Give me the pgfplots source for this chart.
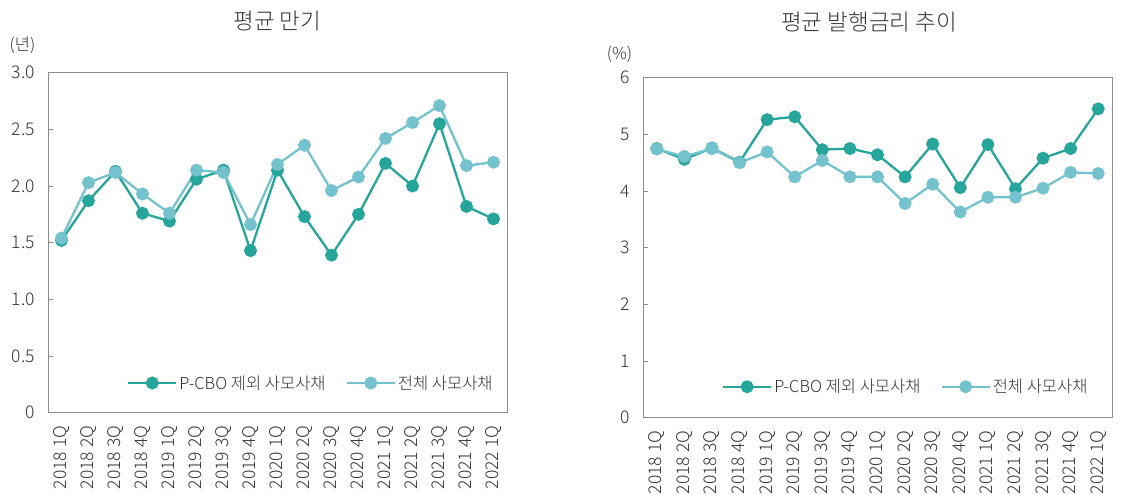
\documentclass[border=0pt]{standalone}
\usepackage{pgfplots}
\pgfplotsset{compat=1.18}
\usepackage{fontspec}
\setmainfont{Noto Sans CJK KR}[UprightFont={* Light}]
\definecolor{darkteal}{HTML}{26A69A}
\definecolor{lightteal}{HTML}{73C2CD}
\definecolor{axgray}{HTML}{8C8C8C}
\definecolor{txt}{HTML}{333333}
\pgfplotsset{
  mystyle/.style={
    scale only axis, clip=false,
    xmin=-0.5, xmax=16.5,
    xtick={0,...,16},
    xticklabels={2018 1Q,2018 2Q,2018 3Q,2018 4Q,2019 1Q,2019 2Q,2019 3Q,2019 4Q,2020 1Q,2020 2Q,2020 3Q,2020 4Q,2021 1Q,2021 2Q,2021 3Q,2021 4Q,2022 1Q},
    minor xtick={0.5,1.5,...,15.5},
    xtick style={draw=none},
    minor x tick style={axgray, line width=0.8bp},
    y tick style={axgray, line width=0.8bp},
    major tick length=5bp, minor tick length=6bp,
    xtick pos=bottom, ytick pos=left,
    tick align=inside,
    axis line style={axgray, line width=0.8bp},
    /pgf/number format/assume math mode=true,
    tick label style={font=\fontsize{17.5bp}{19bp}\selectfont, text=txt},
    xticklabel style={rotate=90, anchor=east, inner sep=0pt},
    yticklabel style={anchor=east, inner sep=0pt},
    xticklabel shift=13bp,
    yticklabel shift=13bp,
    legend columns=2,
    legend image code/.code={\draw[mark repeat=2,mark phase=2] plot coordinates {(0bp,0bp) (24bp,0bp) (48bp,0bp)};},
    legend style={draw=none, fill=none, inner sep=0pt, font=\fontsize{16.5bp}{18bp}\selectfont, text=txt, anchor=west,
      /tikz/every even column/.append style={column sep=18bp}},
    every axis plot/.append style={line width=2.3bp, mark=*, mark size=5.3bp},
  },
  darkline/.style={darkteal, mark options={fill=darkteal, draw=darkteal}},
  lightline/.style={lightteal, mark options={fill=lightteal, draw=lightteal}},
}
\begin{document}
\begin{tikzpicture}
\useasboundingbox (0,0) rectangle (1137bp,495bp);
% Left: average maturity
\begin{axis}[mystyle,
  at={(48bp,82.3bp)}, anchor=south west,
  width=459bp, height=340bp,
  ymin=0, ymax=3,
  ytick={0,0.5,1,1.5,2,2.5,3},
  yticklabels={0,0.5,1.0,1.5,2.0,2.5,3.0},
  legend style={at={(0.172,0.0874)}},
]
\addplot[darkline] coordinates {
(0,1.52) (1,1.87) (2,2.13) (3,1.76) (4,1.69) (5,2.06) (6,2.14) (7,1.43) (8,2.14)
(9,1.73) (10,1.39) (11,1.75) (12,2.20) (13,2.00) (14,2.55) (15,1.82) (16,1.71)};
\addlegendentry{P-CBO 제외 사모사채}
\addplot[lightline] coordinates {
(0,1.54) (1,2.03) (2,2.12) (3,1.93) (4,1.76) (5,2.14) (6,2.12) (7,1.66) (8,2.19)
(9,2.36) (10,1.96) (11,2.08) (12,2.42) (13,2.56) (14,2.71) (15,2.18) (16,2.21)};
\addlegendentry{전체 사모사채}
\node[font=\fontsize{22.5bp}{24bp}\selectfont, text=txt] at (rel axis cs:0.5,1) [yshift=51.5bp] {평균 만기};
\node[font=\fontsize{16.5bp}{18bp}\selectfont, text=txt] at (rel axis cs:0,1) [xshift=-25.5bp, yshift=27.7bp] {(년)};
\end{axis}
% Right: average issue rate
\begin{axis}[mystyle,
  at={(643bp,77.3bp)}, anchor=south west,
  width=469bp, height=340bp,
  ymin=0, ymax=6,
  ytick={0,1,2,3,4,5,6},
  legend style={at={(0.168,0.091)}},
]
\addplot[darkline] coordinates {
(0,4.75) (1,4.56) (2,4.76) (3,4.51) (4,5.26) (5,5.31) (6,4.73) (7,4.75) (8,4.64)
(9,4.25) (10,4.83) (11,4.06) (12,4.82) (13,4.04) (14,4.58) (15,4.75) (16,5.45)};
\addlegendentry{P-CBO 제외 사모사채}
\addplot[lightline] coordinates {
(0,4.74) (1,4.61) (2,4.75) (3,4.50) (4,4.69) (5,4.25) (6,4.54) (7,4.25) (8,4.25)
(9,3.78) (10,4.12) (11,3.63) (12,3.89) (13,3.89) (14,4.05) (15,4.33) (16,4.31)};
\addlegendentry{전체 사모사채}
\node[font=\fontsize{22.5bp}{24bp}\selectfont, text=txt] at (rel axis cs:0.482,1) [yshift=55.5bp] {평균 발행금리 추이};
\node[font=\fontsize{16.5bp}{18bp}\selectfont, text=txt] at (rel axis cs:0,1) [xshift=-23.5bp, yshift=22.8bp] {(\%)};
\end{axis}
\end{tikzpicture}
\end{document}
